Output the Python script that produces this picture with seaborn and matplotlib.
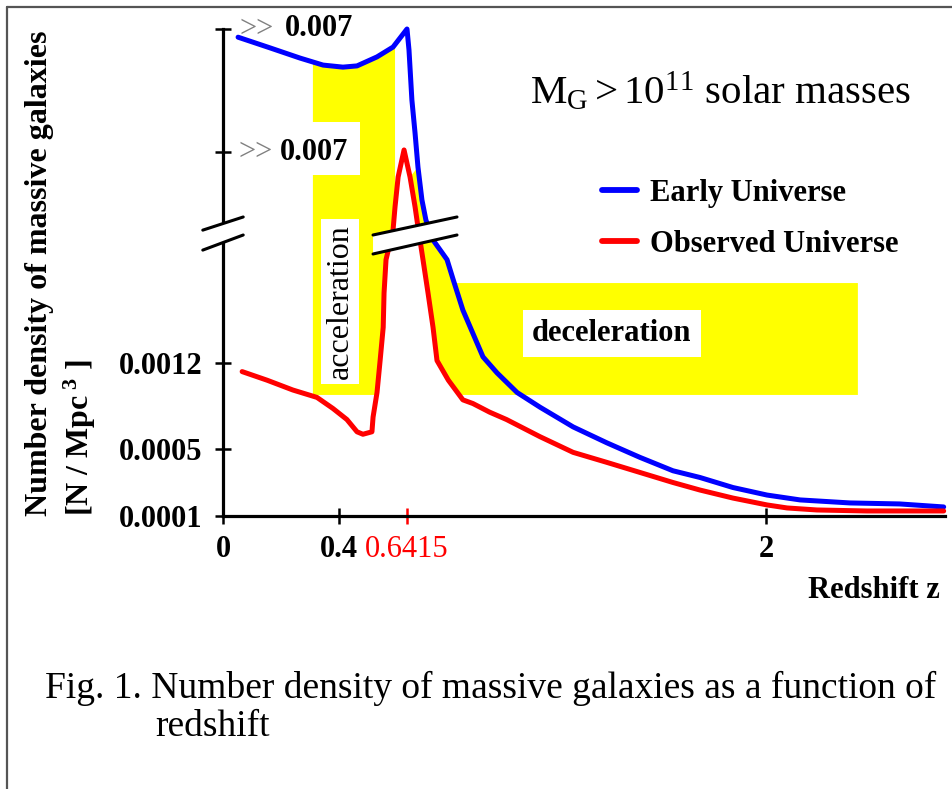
import numpy as np
import pandas as pd
import matplotlib
matplotlib.use('Agg')
import matplotlib.pyplot as plt
import seaborn as sns
from matplotlib.lines import Line2D
from matplotlib.patches import Polygon, Rectangle

# redshift z and number density (N / Mpc^3)
blue_z = [0.052, 0.162, 0.266, 0.345, 0.414, 0.464, 0.535, 0.592, 0.6415, 0.649,
          0.660, 0.672, 0.683, 0.698, 0.713, 0.740, 0.793, 0.816, 0.853, 0.891,
          0.929, 0.982, 1.058, 1.145, 1.270, 1.398, 1.523, 1.648, 1.750, 1.875,
          2.004, 2.129, 2.318, 2.506, 2.673]
blue_n = [0.00980, 0.00954, 0.00929, 0.00912, 0.00907, 0.00910, 0.00932, 0.00956, 0.01000, 0.00949,
          0.00827, 0.00746, 0.00663, 0.00583, 0.00534, 0.00220, 0.00204, 0.00188, 0.00163, 0.00144,
          0.00125, 0.00112, 0.00096, 0.00084, 0.00068, 0.00055, 0.00045, 0.00037, 0.00033, 0.00027,
          0.000225, 0.000196, 0.000178, 0.000172, 0.000154]

red_z = [0.066, 0.152, 0.241, 0.324, 0.379, 0.428, 0.464, 0.485, 0.517, 0.521,
         0.535, 0.546, 0.557, 0.560, 0.567, 0.592, 0.599, 0.610, 0.631, 0.653,
         0.672, 0.683, 0.702, 0.721, 0.740, 0.755, 0.798, 0.853, 0.891, 0.954,
         1.018, 1.145, 1.270, 1.398, 1.523, 1.648, 1.750, 1.875, 2.004, 2.080,
         2.193, 2.382, 2.673]
red_n = [0.00113, 0.00106, 0.00098, 0.00092, 0.00083, 0.00074, 0.00064, 0.00062, 0.00064, 0.00076,
         0.00096, 0.00122, 0.00149, 0.00177, 0.00204, 0.00510, 0.00566, 0.00639, 0.00705, 0.00639,
         0.00566, 0.00517, 0.00204, 0.00177, 0.00149, 0.00122, 0.00106, 0.00090, 0.00087, 0.00080,
         0.00074, 0.00060, 0.00048, 0.00042, 0.00036, 0.00030, 0.000255, 0.000207, 0.000166, 0.000148,
         0.000136, 0.00013, 0.00013]

x_ticks = [0, 0.4, 0.6415, 2]
x_labels = ['0', '0.4', '0.6415', '2']
y_ticks = [0.0001, 0.0005, 0.0012, 0.007, 0.010]
y_labels = ['0.0001', '0.0005', '0.0012', '', '']

# shaded zones
accel_left = 0.31
accel_right = 0.599
zone_bottom = 0.00094
decel_top = 0.00185
decel_right = 2.348

# the hand drawn axes are not linear, so use piecewise scales
XV = [0, 0.4, 0.6415, 2, 3]
XP = [0, 116, 184, 543, 807]
YV = [0.0001, 0.0005, 0.0012, 0.0022, 0.0049, 0.007, 0.010, 0.02]
YP = [0, 67, 153, 276, 278, 364, 487, 897]

def fx(v):
    return np.interp(v, XV, XP)

def ix(p):
    return np.interp(p, XP, XV)

def fy(v):
    return np.interp(v, YV, YP)

def iy(p):
    return np.interp(p, YP, YV)

sns.set_style('white')
plt.rcParams['font.family'] = ['Liberation Serif', 'DejaVu Serif']
plt.rcParams['mathtext.fontset'] = 'custom'
plt.rcParams['mathtext.rm'] = 'Liberation Serif'
plt.rcParams['mathtext.it'] = 'Liberation Serif:italic'
plt.rcParams['mathtext.bf'] = 'Liberation Serif:bold'
plt.rcParams['text.color'] = 'black'
plt.rcParams['xtick.color'] = 'black'
plt.rcParams['ytick.color'] = 'black'

W, H = 953, 789
fig = plt.figure(figsize=(W / 100, H / 100), dpi=100)
ax = fig.add_axes([223 / W, 1 - 516 / H, 722 / W, 487 / H])

blue = pd.DataFrame({'z': blue_z, 'n': blue_n})
red = pd.DataFrame({'z': red_z, 'n': red_n})

sns.lineplot(data=blue, x='z', y='n', color='#0000ff', lw=3.6, sort=False,
             estimator=None, label='Early Universe', ax=ax, zorder=3, clip_on=False)
sns.lineplot(data=red, x='z', y='n', color='#ff0000', lw=3.6, sort=False,
             estimator=None, label='Observed Universe', ax=ax, zorder=3, clip_on=False)

ax.set_xscale('function', functions=(fx, ix))
ax.set_yscale('function', functions=(fy, iy))
ax.set_xlim(0, 2.678)
ax.set_ylim(0.0001, 0.010)

bz = np.array(blue_z); bn = np.array(blue_n)
rz = np.array(red_z); rn = np.array(red_n)
ipk = int(np.argmax(rn))
imin = int(np.argmin(rn[:ipk]))
bpk = int(np.argmax(bn))

# acceleration zone: under the blue curve, left of the rising red curve
rise_z, rise_n = rz[imin:ipk + 1], rn[imin:ipk + 1]
z_cross = np.interp(zone_bottom, rise_n, rise_z)
m = (bz > accel_left) & (bz < accel_right)
m2 = (rise_z < accel_right) & (rise_n > zone_bottom)
pts = [(accel_left, zone_bottom), (accel_left, np.interp(accel_left, bz, bn))]
pts += list(zip(bz[m], bn[m]))
pts += [(accel_right, np.interp(accel_right, bz, bn)), (accel_right, np.interp(accel_right, rz, rn))]
pts += list(zip(rise_z[m2][::-1], rise_n[m2][::-1]))
pts += [(z_cross, zone_bottom)]
ax.add_patch(Polygon(pts, closed=True, facecolor='#ffff00', edgecolor='none', zorder=1))

# deceleration zone: right of the falling red curve
fall_z, fall_n = rz[ipk + 1:], rn[ipk + 1:]
zr = np.interp(zone_bottom, fall_n[::-1], fall_z[::-1])
bf_z, bf_n = bz[bpk + 1:], bn[bpk + 1:]
zb = np.interp(decel_top, bf_n[::-1], bf_z[::-1])
mr = fall_n > zone_bottom
mb = (bf_n > decel_top) & (bf_n < 0.0067)
pts = list(zip(fall_z[mr], fall_n[mr]))
pts += [(zr, zone_bottom), (decel_right, zone_bottom), (decel_right, decel_top), (zb, decel_top)]
pts += list(zip(bf_z[mb][::-1], bf_n[mb][::-1]))
ax.add_patch(Polygon(pts, closed=True, facecolor='#ffff00', edgecolor='none', zorder=1))

# white box behind the middle label
ax.add_patch(Rectangle((0.30, 0.00644), 0.175, 0.00129, facecolor='white',
                       edgecolor='none', zorder=1.5))

# break across the curves
band_top = [(0.2078, 0.5770), (0.3241, 0.6140)]
band_bot = [(0.2078, 0.5380), (0.3241, 0.5770)]
ax.add_patch(Polygon(band_top + band_bot[::-1], closed=True, facecolor='white',
                     edgecolor='none', transform=ax.transAxes, zorder=4))
for seg in (band_top, band_bot):
    ax.add_line(Line2D([seg[0][0], seg[1][0]], [seg[0][1], seg[1][1]], color='black',
                       lw=2.2, transform=ax.transAxes, zorder=5))

# break on the y axis
ax_top = [(-0.028, 0.587), (0.028, 0.614)]
ax_bot = [(-0.028, 0.546), (0.028, 0.577)]
ax.add_patch(Polygon(ax_top + ax_bot[::-1], closed=True, facecolor='white', edgecolor='none',
                     transform=ax.transAxes, zorder=4, clip_on=False))
for seg in (ax_top, ax_bot):
    ax.add_line(Line2D([seg[0][0], seg[1][0]], [seg[0][1], seg[1][1]], color='black',
                       lw=2.2, transform=ax.transAxes, zorder=5, clip_on=False))

sns.despine(ax=ax)
for s in ('left', 'bottom'):
    ax.spines[s].set_color('black')
    ax.spines[s].set_linewidth(2.3)

ax.set_xticks(x_ticks)
ax.set_xticklabels(x_labels)
ax.set_yticks(y_ticks)
ax.set_yticklabels(y_labels)
ax.minorticks_off()
ax.tick_params(axis='both', which='major', bottom=True, left=True, direction='inout',
               length=12, width=1.8, color='black', labelsize=22, labelcolor='black')
ax.tick_params(axis='x', pad=8)
ax.tick_params(axis='y', pad=9)
for lbl in ax.get_xticklabels() + ax.get_yticklabels():
    lbl.set_fontweight('bold')
t = ax.xaxis.get_major_ticks()[2]
t.tick1line.set_markeredgecolor('#ff0000')
t.label1.set_color('#ff0000')
t.label1.set_fontweight('normal')
ax.set_xlabel('')
ax.set_ylabel('')

yt = ax.get_yaxis_transform()
for yv, x1, x2 in ((0.010, 0.0235, 0.0859), (0.007, 0.0208, 0.079)):
    ax.text(x1, yv, '>>', transform=yt, ha='left', va='center', fontsize=22, color='#808080', zorder=6)
    ax.text(x2, yv, '0.007', transform=yt, ha='left', va='center', fontsize=22,
            fontweight='bold', color='black', zorder=6)

ax.text(0.404, 0.0017, 'acceleration', rotation=90, ha='center', va='center', fontsize=23,
        zorder=6, bbox=dict(boxstyle='square,pad=0.15', facecolor='white', edgecolor='none'))
ax.text(1.417, 0.00144, 'deceleration', ha='center', va='center', fontsize=22, fontweight='bold',
        zorder=6, bbox=dict(boxstyle='square,pad=0.3', facecolor='white', edgecolor='none'))

leg = ax.legend(loc='upper left', bbox_to_anchor=(602 / W, 1 - 179 / H), bbox_transform=fig.transFigure,
                frameon=False, borderpad=0, borderaxespad=0, handlelength=1.15, handletextpad=0.42,
                labelspacing=0.72, prop={'size': 22, 'weight': 'bold'})
for ln in leg.get_lines():
    ln.set_linewidth(4.2)

fig.text(530 / W, 1 - 103 / H, r'$\mathrm{M_G > 10^{11}}$ solar masses', ha='left', va='baseline',
         fontsize=29.5)
fig.text(940 / W, 1 - 590 / H, 'Redshift z', ha='right', va='center', fontsize=22, fontweight='bold')
fig.text(40 / W, 1 - 516 / H, 'Number density of massive galaxies', rotation=90, ha='center',
         va='bottom', fontsize=23, fontweight='bold')
fig.text(80 / W, 1 - 516 / H, r'[N / Mpc$^{\mathbf{\ 3}}$ ]', rotation=90, ha='center',
         va='bottom', fontsize=23, fontweight='bold')
fig.text(45 / W, 1 - 688 / H, 'Fig. 1. Number density of massive galaxies as a function of',
         ha='left', va='center', fontsize=27)
fig.text(155 / W, 1 - 727 / H, 'redshift', ha='left', va='center', fontsize=27)

# page frame
fig.add_artist(Line2D([7 / W, 1], [1 - 7 / H, 1 - 7 / H], transform=fig.transFigure, color='#555555', lw=1.6))
fig.add_artist(Line2D([7 / W, 7 / W], [0, 1 - 7 / H], transform=fig.transFigure, color='#555555', lw=1.6))

fig.savefig('out.png', dpi=100)
